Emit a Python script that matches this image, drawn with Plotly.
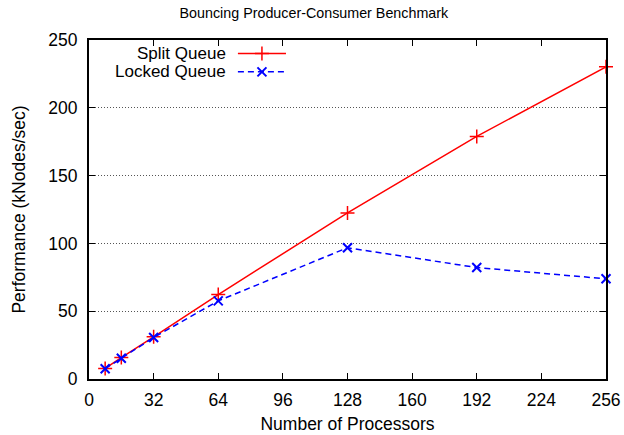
import plotly.graph_objects as go

processors = [8, 16, 32, 64, 128, 192, 256]
split_queue = [7.8, 15.8, 31.1, 62.3, 122.5, 178.9, 230.2]
locked_queue = [7.6, 15.3, 30.6, 57.6, 96.8, 82.2, 73.9]
x_ticks = [0, 32, 64, 96, 128, 160, 192, 224, 256]
y_ticks = [0, 50, 100, 150, 200, 250]
series_names = ["Split Queue", "Locked Queue"]

RED = "#ff0000"
BLUE = "#0000ff"
FONT = "Liberation Sans, Arial, sans-serif"
FS = 17.5

red_marker = dict(symbol="cross-thin", size=10, line=dict(color=RED, width=1.5))
blue_marker = dict(symbol="x-thin", size=9, line=dict(color=BLUE, width=2))
red_line = dict(color=RED, width=1.5)
blue_line = dict(color=BLUE, width=1.5, dash="6px,4px")

fig = go.Figure()
fig.add_trace(go.Scatter(
    x=processors, y=split_queue, mode="lines+markers", name=series_names[0],
    line=red_line, marker=red_marker, showlegend=False, cliponaxis=False))
fig.add_trace(go.Scatter(
    x=processors, y=locked_queue, mode="lines+markers", name=series_names[1],
    line=blue_line, marker=blue_marker, showlegend=False, cliponaxis=False))

# legend samples (gnuplot style: text then sample) on an overlay axis in fractional units
leg_y = [0.960, 0.906]
leg_x0, leg_x1 = 0.288, 0.381
styles = [(red_line, red_marker), (blue_line, blue_marker)]
for name, yy, (ln, mk) in zip(series_names, leg_y, styles):
    fig.add_trace(go.Scatter(x=[leg_x0, leg_x1], y=[yy, yy], mode="lines", line=ln,
                             xaxis="x2", yaxis="y2", showlegend=False, hoverinfo="skip"))
    fig.add_trace(go.Scatter(x=[(leg_x0 + leg_x1) / 2], y=[yy], mode="markers", marker=mk,
                             xaxis="x2", yaxis="y2", showlegend=False, hoverinfo="skip"))
    fig.add_annotation(x=0.269, y=yy, xref="x2", yref="y2", text=name, showarrow=False,
                       xanchor="right", yanchor="middle",
                       font=dict(family=FONT, size=17, color="black"))

axis_common = dict(showline=True, linecolor="black", linewidth=2, mirror="ticks",
                   ticks="inside", ticklen=6, tickwidth=1, tickcolor="black",
                   tickfont=dict(family=FONT, size=FS, color="black"), zeroline=False,
                   automargin=False)

fig.update_layout(
    width=624, height=435,
    margin=dict(l=89, r=18, t=40, b=56),
    paper_bgcolor="white", plot_bgcolor="white",
    title=dict(text="Bouncing Producer-Consumer Benchmark", x=0.503, xanchor="center",
               y=0.97, yanchor="middle",
               font=dict(family=FONT, size=14.3, color="black")),
    xaxis=dict(range=[0, 256], tickvals=x_ticks, showgrid=False,
               title=dict(text="Number of Processors", font=dict(family=FONT, size=FS, color="black"), standoff=9),
               ticklabelstandoff=4, **axis_common),
    yaxis=dict(range=[0, 250], tickvals=y_ticks, showgrid=True, gridcolor="#555555", griddash="1px,2px", gridwidth=1,
               title=dict(text="Performance (kNodes/sec)", font=dict(family=FONT, size=FS, color="black"), standoff=18),
               ticklabelstandoff=6, **axis_common),
    xaxis2=dict(range=[0, 1], overlaying="x", visible=False, fixedrange=True),
    yaxis2=dict(range=[0, 1], overlaying="y", visible=False, fixedrange=True),
)

fig.write_html("out.html")
